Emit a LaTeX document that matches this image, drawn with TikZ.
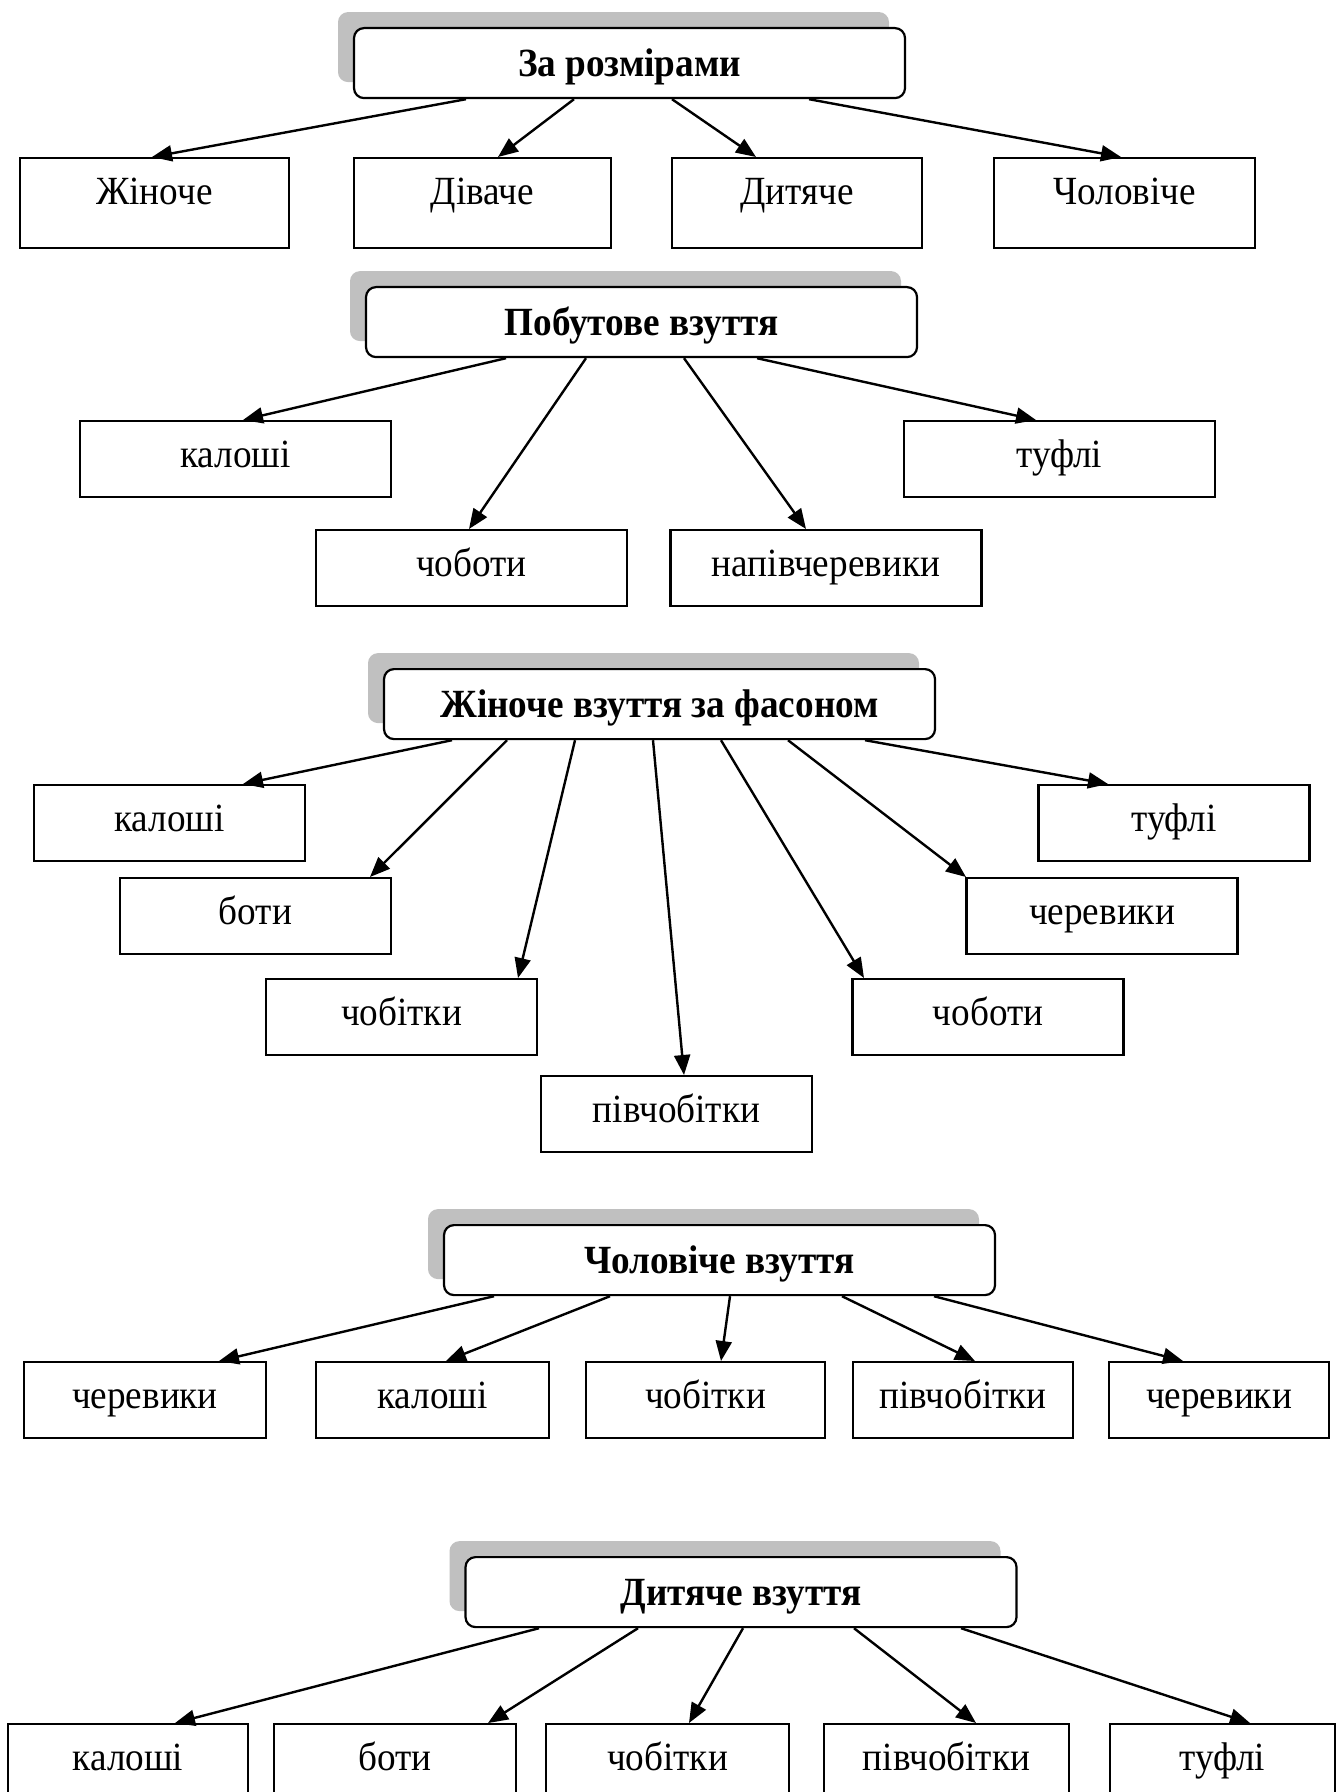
\documentclass[tikz,border=0pt]{standalone}
\usepackage{fontspec}
\setmainfont{Liberation Serif}[FakeStretch=0.93]
\usetikzlibrary{arrows.meta,shadows}
\definecolor{shgray}{HTML}{C0C0C0}
\tikzset{
  basefont/.style={font=\fontsize{20pt}{24pt}\selectfont},
  leafA/.style={draw, line width=1.1pt, anchor=north, inner xsep=0pt, inner ysep=0pt,
    text height=23pt, text depth=22pt, minimum width=#1, basefont},
  leafB/.style={draw, line width=1.1pt, anchor=north, inner xsep=0pt, inner ysep=0pt,
    text height=23pt, text depth=15pt, minimum width=#1, basefont},
  hdr/.style={draw, line width=1.1pt, rounded corners=5pt, fill=white, anchor=north,
    inner xsep=0pt, inner ysep=0pt, text height=24pt, text depth=11pt,
    minimum width=275.5pt, font=\fontsize{20pt}{24pt}\selectfont\bfseries,
    drop shadow={shadow xshift=-8pt, shadow yshift=8pt, fill=shgray, opacity=1, draw=none}},
  arr/.style={-{Triangle[length=10pt,width=8pt]}, line width=1.2pt}
}
\begin{document}
\begin{tikzpicture}[x=0.5pt,y=-0.5pt]
\useasboundingbox (0,0) rectangle (1342,1792);
\fill[white] (0,0) rectangle (1342,1792);
\clip (0,0) rectangle (1342,1792);

% Group 1
\node[hdr] (h1) at (629.5,27) {За розмірами};
\node[leafA=134.5pt] (a1) at (154.5,157) {Жіноче};
\node[leafA=128.5pt] (a2) at (482.5,157) {Діваче};
\node[leafA=125pt]   (a3) at (797,157) {Дитяче};
\node[leafA=130.5pt] (a4) at (1124.5,157) {Чоловіче};
\draw[arr] (466,0 |- h1.south) -- (152,0 |- a1.north);
\draw[arr] (574,0 |- h1.south) -- (498,0 |- a2.north);
\draw[arr] (672,0 |- h1.south) -- (756,0 |- a3.north);
\draw[arr] (809,0 |- h1.south) -- (1121,0 |- a4.north);

% Group 2
\node[hdr] (h2) at (641.5,286) {Побутове взуття};
\node[leafB=155.5pt] (b1) at (235.5,420) {калоші};
\node[leafB=155.5pt] (b2) at (471.5,529) {чоботи};
\node[leafB=155.5pt] (b3) at (826,529) {напівчеревики};
\node[leafB=155.5pt] (b4) at (1059.5,420) {туфлі};
\draw[arr] (506,0 |- h2.south) -- (243,0 |- b1.north);
\draw[arr] (586,0 |- h2.south) -- (469,0 |- b2.north);
\draw[arr] (684,0 |- h2.south) -- (806,0 |- b3.north);
\draw[arr] (757,0 |- h2.south) -- (1036,0 |- b4.north);

% Group 3
\node[hdr] (h3) at (659.5,668) {Жіноче взуття за фасоном};
\node[leafB=135.5pt] (c1) at (169.5,784) {калоші};
\node[leafB=135.5pt] (c2) at (255.5,877) {боти};
\node[leafB=135.5pt] (c3) at (401.5,978) {чобітки};
\node[leafB=135.5pt] (c4) at (676.5,1075) {півчобітки};
\node[leafB=135.5pt] (c5) at (988,978) {чоботи};
\node[leafB=135.5pt] (c6) at (1102,877) {черевики};
\node[leafB=135.5pt] (c7) at (1174,784) {туфлі};
\draw[arr] (452,0 |- h3.south) -- (243,0 |- c1.north);
\draw[arr] (507,0 |- h3.south) -- (370,0 |- c2.north);
\draw[arr] (575,0 |- h3.south) -- (518,0 |- c3.north);
\draw[arr] (653,0 |- h3.south) -- (684,0 |- c4.north);
\draw[arr] (721,0 |- h3.south) -- (864,0 |- c5.north);
\draw[arr] (788,0 |- h3.south) -- (966,0 |- c6.north);
\draw[arr] (865,0 |- h3.south) -- (1108,0 |- c7.north);

% Group 4
\node[hdr] (h4) at (719.5,1224) {Чоловіче взуття};
\node[leafB=121pt]   (d1) at (145,1361) {черевики};
\node[leafB=116.5pt] (d2) at (432.5,1361) {калоші};
\node[leafB=119.5pt] (d3) at (705.5,1361) {чобітки};
\node[leafB=110pt]   (d4) at (963,1361) {півчобітки};
\node[leafB=110pt]   (d5) at (1219,1361) {черевики};
\draw[arr] (494,0 |- h4.south) -- (219,0 |- d1.north);
\draw[arr] (610,0 |- h4.south) -- (446,0 |- d2.north);
\draw[arr] (730,0 |- h4.south) -- (721,0 |- d3.north);
\draw[arr] (842,0 |- h4.south) -- (975,0 |- d4.north);
\draw[arr] (934,0 |- h4.south) -- (1183,0 |- d5.north);

% Group 5
\node[hdr] (h5) at (741,1556) {Дитяче взуття};
\node[leafB=120pt]   (e1) at (128,1723) {калоші};
\node[leafB=121pt]   (e2) at (395,1723) {боти};
\node[leafB=121.5pt] (e3) at (667.5,1723) {чобітки};
\node[leafB=122.5pt] (e4) at (946.5,1723) {півчобітки};
\node[leafB=112.5pt] (e5) at (1222.5,1723) {туфлі};
\draw[arr] (539,0 |- h5.south) -- (175,0 |- e1.north);
\draw[arr] (638,0 |- h5.south) -- (488,0 |- e2.north);
\draw[arr] (743,0 |- h5.south) -- (689,0 |- e3.north);
\draw[arr] (854,0 |- h5.south) -- (976,0 |- e4.north);
\draw[arr] (961,0 |- h5.south) -- (1250,0 |- e5.north);
\end{tikzpicture}
\end{document}
